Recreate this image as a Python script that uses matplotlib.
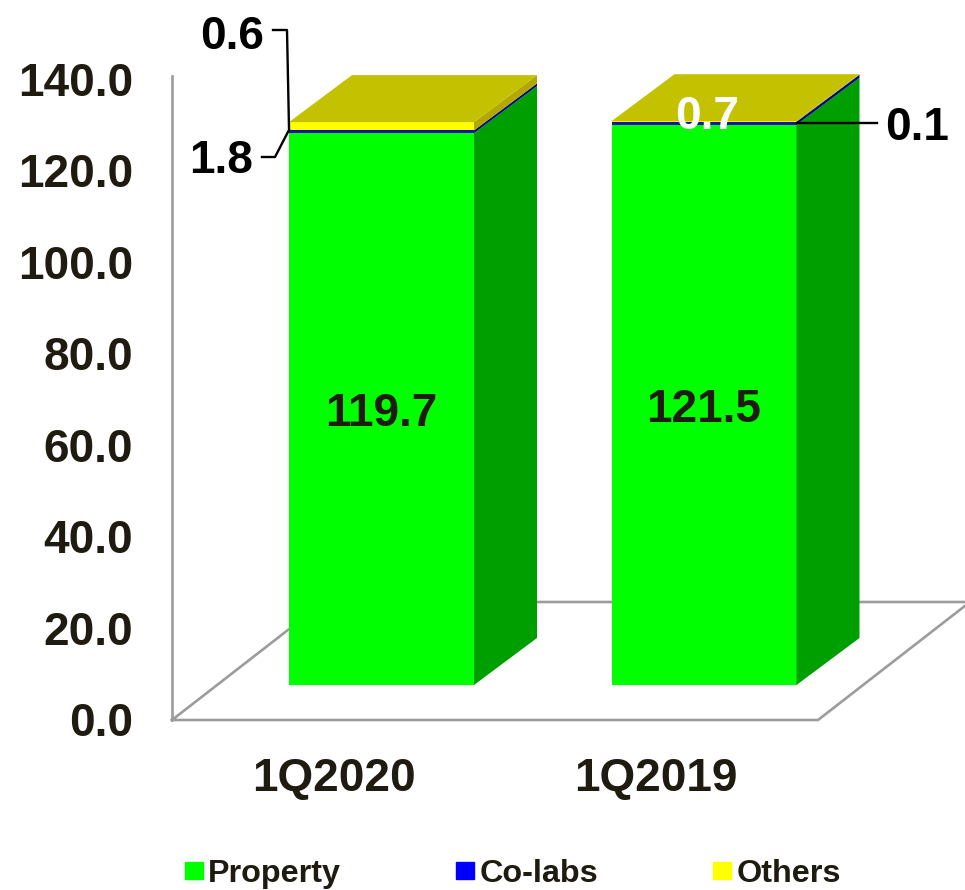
import matplotlib
matplotlib.use("Agg")
import matplotlib.pyplot as plt
from matplotlib.lines import Line2D
from matplotlib.patches import Patch, Polygon

categories = ["1Q2020", "1Q2019"]
series_names = ["Property", "Co-labs", "Others"]
property_vals = [119.7, 121.5]
colabs_vals = [0.6, 0.7]
others_vals = [1.8, 0.1]
y_ticks = [0, 20, 40, 60, 80, 100, 120, 140]

W, H = 965, 890
TEXT = "#1f1b10"
GREY = "#9c9c9c"
FONT = "Liberation Sans"

legend_colors = ["#00ff00", "#0000ff", "#ffff00"]
# the blue band is so thin it renders darker than its legend swatch
front = ["#00ff00", "#0a14b4", "#ffff00"]
side = ["#009f00", "#000a80", "#b3a800"]
top_color = "#c4c200"

# pixel scale of the front plane
PX_X = 322.5
PX_Y = 4.61
X0, Y0 = 381.5, 685
bar_w = 185 / PX_X
depth_x = 63 / PX_X
depth_y = 47 / PX_Y
label_shift = 48 / PX_X


def px(x, y):
    """Reference pixel -> figure fraction."""
    return x / W, 1 - y / H


fig = plt.figure(figsize=(W / 100, H / 100), dpi=100)
ax = fig.add_axes([172 / W, (H - 720) / H, (W - 172) / W, 720 / H])
ax.set_xlim((172 - X0) / PX_X, (W - X0) / PX_X)
ax.set_ylim((Y0 - 720) / PX_Y, Y0 / PX_Y)
ax.patch.set_alpha(0)

# floor and wall
floor_y = (Y0 - 720) / PX_Y
floor_right = (818 - X0) / PX_X
floor_dx = 152 / PX_X
floor_dy = 118 / PX_Y
left = ax.get_xlim()[0]
ax.plot([left, left + floor_dx, floor_right + floor_dx, floor_right, left],
        [floor_y, floor_y + floor_dy, floor_y + floor_dy, floor_y, floor_y],
        color=GREY, lw=1.9, zorder=1, clip_on=False)
for name in ["top", "right", "bottom"]:
    ax.spines[name].set_visible(False)
ax.spines["left"].set_color(GREY)
ax.spines["left"].set_linewidth(1.9)
ax.spines["left"].set_bounds(floor_y, (Y0 - 76) / PX_Y)

# stacked bars with side and top faces
bottoms = [0.0 for _ in categories]
for i, vals in enumerate([property_vals, colabs_vals, others_vals]):
    ax.bar(range(len(categories)), vals, bar_w, bottom=bottoms,
           color=front[i], zorder=3)
    for j, v in enumerate(vals):
        xr = j + bar_w / 2
        b = bottoms[j]
        ax.add_patch(Polygon([(xr, b), (xr + depth_x, b + depth_y),
                              (xr + depth_x, b + v + depth_y), (xr, b + v)],
                             closed=True, facecolor=side[i], edgecolor="none", zorder=3))
    bottoms = [b + v for b, v in zip(bottoms, vals)]

for j, total in enumerate(bottoms):
    xl, xr = j - bar_w / 2, j + bar_w / 2
    ax.add_patch(Polygon([(xl, total), (xr, total),
                          (xr + depth_x, total + depth_y), (xl + depth_x, total + depth_y)],
                         closed=True, facecolor=top_color, edgecolor="none", zorder=3))

# category labels sit left of the bars, under the front edge of the floor
ax.set_xticks([j - label_shift for j in range(len(categories))])
ax.set_xticklabels(categories, family=FONT, weight="bold", fontsize=33, color=TEXT)
ax.tick_params(axis="x", length=0, pad=26.5)
ax.set_yticks([])

# value axis has a slightly different scale from the bars
ax_y = fig.add_axes([172 / W, (H - 719) / H, 10 / W, 640 / H])
ax_y.patch.set_alpha(0)
ax_y.set_ylim(0, 140)
ax_y.set_xticks([])
ax_y.set_yticks(y_ticks)
ax_y.set_yticklabels([f"{t:.1f}" for t in y_ticks], family=FONT, weight="bold",
                     fontsize=33, color=TEXT)
ax_y.tick_params(axis="y", length=0, pad=28)
for s in ax_y.spines.values():
    s.set_visible(False)

# value labels
for j, v in enumerate(property_vals):
    ax.text(j, v / 2 - 5 / PX_Y, f"{v:.1f}", ha="center", va="center", family=FONT,
            weight="bold", fontsize=33, color=TEXT, zorder=5)


def label(x, y, value, color="black"):
    fx, fy = px(x, y)
    fig.text(fx, fy, f"{value:.1f}", ha="center", va="center", family=FONT,
             weight="bold", fontsize=33, color=color, zorder=6)


def leader(points):
    xs, ys = zip(*[px(x, y) for x, y in points])
    fig.add_artist(Line2D(xs, ys, color="black", lw=1.7, zorder=6))


label(232, 37, colabs_vals[0])
label(221, 161, others_vals[0])
label(917, 128, others_vals[1])
label(707, 117, colabs_vals[1], color="white")
leader([(273, 30), (287, 30), (289, 128)])
leader([(262, 157), (275, 157), (289, 130)])
leader([(797, 123), (877, 123)])

legend_handles = [Patch(color=c) for c in legend_colors]
fig.legend(handles=legend_handles, labels=series_names, ncol=3, frameon=False,
           loc="lower left", bbox_to_anchor=px(185, 889), borderaxespad=0, borderpad=0,
           handlelength=0.56, handleheight=0.42, handletextpad=0.16, columnspacing=3.55,
           prop={"family": FONT, "weight": "bold", "size": 23.3}, labelcolor=TEXT)

fig.savefig("out.png", dpi=100)
